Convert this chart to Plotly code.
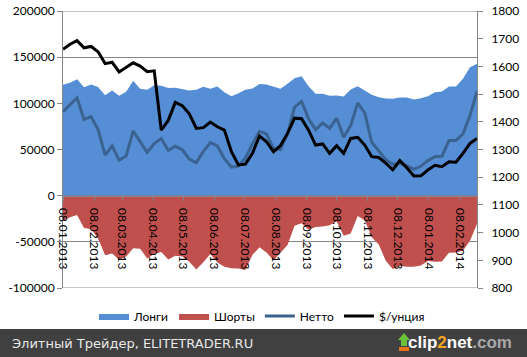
import pandas as pd
import plotly.graph_objects as go

# ---------------- data ----------------
start_date = "2013-01-08"
n_weeks = 60

longs = [120000, 122200, 126000, 117500, 120400, 117800, 108800, 114000, 108300, 112500,
         124500, 115700, 114600, 119500, 119000, 116500, 116800, 115700, 113900, 114600,
         118000, 115700, 118200, 112000, 107700, 111000, 114600, 116000, 121000, 120400,
         118400, 115700, 121100, 127200, 129400, 118600, 110300, 110300, 108100, 108500,
         107400, 115000, 118600, 113900, 109200, 106600, 105200, 104900, 106300, 106300,
         104100, 105500, 107700, 112000, 112800, 118200, 118200, 126600, 139200, 142800]

shorts = [-27500, -23500, -21000, -35000, -36000, -46500, -64500, -62500, -69500, -66000,
          -57000, -57500, -68000, -63000, -61000, -69000, -65000, -66000, -71500, -80000,
          -72000, -63300, -72300, -77000, -78500, -79000, -80600, -64000, -56000, -61500,
          -70000, -61500, -53500, -32500, -30000, -37000, -34000, -33500, -32000, -28000,
          -43500, -41000, -22000, -26500, -45000, -53000, -70500, -79500, -76300, -77000,
          -77000, -75600, -70800, -71600, -71200, -61800, -61500, -59700, -48800, -30700]

netto = [91000, 98500, 106000, 82500, 85700, 71500, 44000, 54000, 38500, 43000,
         70000, 58500, 46800, 56400, 62000, 49000, 53500, 49700, 39500, 35500,
         48000, 57500, 53800, 40000, 31000, 32000, 41000, 56100, 69700, 66900,
         51000, 49900, 66900, 95800, 102000, 83200, 71600, 78800, 73000, 83900,
         63200, 75900, 100500, 89700, 57800, 48500, 39000, 34000, 35000, 32500,
         28500, 31800, 38000, 42300, 42600, 59700, 59700, 66900, 86800, 112800]

gold = [1662, 1680, 1693, 1667, 1672, 1653, 1610, 1615, 1580, 1598,
        1613, 1601, 1581, 1584, 1370, 1405, 1470, 1458, 1429, 1376,
        1379, 1399, 1382, 1370, 1292, 1244, 1247, 1286, 1349, 1328,
        1292, 1314, 1358, 1413, 1411, 1370, 1316, 1320, 1286, 1314,
        1286, 1340, 1344, 1316, 1274, 1271, 1251, 1227, 1260, 1234,
        1204, 1205, 1226, 1243, 1238, 1256, 1254, 1286, 1322, 1340]

x_tick_labels = ["08.01.2013", "08.02.2013", "08.03.2013", "08.04.2013", "08.05.2013",
                 "08.06.2013", "08.07.2013", "08.08.2013", "08.09.2013", "08.10.2013",
                 "08.11.2013", "08.12.2013", "08.01.2014", "08.02.2014"]
left_ticks = [200000, 150000, 100000, 50000, 0, -50000, -100000]
left_tick_labels = ["200000", "150000", "100000", "50000", "0", "-50000", "-100000"]
right_ticks = [1800, 1700, 1600, 1500, 1400, 1300, 1200, 1100, 1000, 900, 800]
series_names = ["Лонги", "Шорты", "Нетто", "$/унция"]
footer_text = "Элитный Трейдер, ELITETRADER.RU"

dates = pd.date_range(start_date, periods=n_weeks, freq="7D")
x_tick_vals = [pd.to_datetime(s, format="%d.%m.%Y") for s in x_tick_labels]

# ---------------- layout geometry ----------------
W, H = 527, 357
ML, MR, MT, MB = 63, 50, 11, 69
PW, PH = W - ML - MR, H - MT - MB


def px(x):
    return (x - ML) / PW


def py(y):
    return (MT + PH - y) / PH


FONT = "Lato, 'Noto Sans', sans-serif"
GRAY = "#868686"

fig = go.Figure()
fig.add_trace(go.Scatter(x=dates, y=longs, name=series_names[0], mode="lines",
                         fill="tozeroy", fillcolor="#558ED5",
                         line=dict(width=0, color="#558ED5")))
fig.add_trace(go.Scatter(x=dates, y=shorts, name=series_names[1], mode="lines",
                         fill="tozeroy", fillcolor="#C0504D",
                         line=dict(width=0, color="#C0504D")))
fig.add_trace(go.Scatter(x=dates, y=netto, name=series_names[2], mode="lines",
                         line=dict(width=3, color="#3B6391")))
fig.add_trace(go.Scatter(x=dates, y=gold, name=series_names[3], mode="lines",
                         line=dict(width=3, color="#000000"), yaxis="y2"))

fig.update_layout(
    width=W, height=H,
    margin=dict(l=ML, r=MR, t=MT, b=MB, pad=0, autoexpand=False),
    paper_bgcolor="white", plot_bgcolor="white",
    font=dict(family=FONT, size=12, color="black"),
    hovermode=False,
    xaxis=dict(type="date", range=[dates[0], dates[-1]],
               tickvals=x_tick_vals, ticktext=x_tick_labels, tickangle=90,
               anchor="free", position=1 / 3,
               showline=True, linecolor=GRAY, linewidth=1,
               ticks="outside", ticklen=4, tickcolor=GRAY,
               ticklabelstandoff=5,
               showgrid=False, zeroline=False, automargin=False,
               tickfont=dict(family=FONT, size=12, color="black")),
    yaxis=dict(range=[left_ticks[-1], left_ticks[0]], tickvals=left_ticks,
               ticktext=left_tick_labels,
               showgrid=True, gridcolor=GRAY, gridwidth=1,
               showline=True, linecolor=GRAY, linewidth=1,
               ticks="outside", ticklen=5, tickcolor=GRAY, zeroline=False,
               automargin=False,
               tickfont=dict(family=FONT, size=12, color="black")),
    yaxis2=dict(range=[right_ticks[-1], right_ticks[0]], tickvals=right_ticks,
                overlaying="y", side="right",
                showgrid=False, showline=True, linecolor=GRAY, linewidth=1,
                ticks="outside", ticklen=5, tickcolor=GRAY, zeroline=False,
                ticklabelstandoff=6, automargin=False,
                tickfont=dict(family=FONT, size=12, color="black")),
    legend=dict(orientation="h", x=px(262), xanchor="center", y=py(316), yanchor="middle",
                font=dict(family=FONT, size=12, color="black"),
                bgcolor="rgba(0,0,0,0)", itemwidth=30, tracegroupgap=0),
    showlegend=True,
)

# gridlines at the range ends (Plotly omits them)
for yv in (left_ticks[0], left_ticks[-1]):
    fig.add_shape(type="line", xref="paper", yref="y", x0=0, x1=1, y0=yv, y1=yv,
                  line=dict(color=GRAY, width=1), layer="below")

# footer band
fig.add_shape(type="rect", xref="paper", yref="paper",
              x0=px(0), x1=px(W), y0=py(H), y1=py(329),
              fillcolor="#404040", line=dict(width=0), layer="above")
fig.add_annotation(xref="paper", yref="paper", x=px(10), y=py(343),
                   xanchor="left", yanchor="middle", showarrow=False,
                   text=footer_text,
                   font=dict(family="DejaVu Sans", size=13, color="#e8e8e8"))
# clip2net logo
arrow = [(404, 333), (410, 340), (407, 340), (407, 346), (401, 346), (401, 340), (398, 340)]
path = "M " + " L ".join(f"{px(a)},{py(b)}" for a, b in arrow) + " Z"
fig.add_shape(type="path", xref="paper", yref="paper", path=path,
              fillcolor="#6cc13a", line=dict(width=0), layer="above")
fig.add_shape(type="rect", xref="paper", yref="paper",
              x0=px(399), x1=px(409), y0=py(351), y1=py(347),
              fillcolor="#e8731c", line=dict(width=0), layer="above")
fig.add_annotation(xref="paper", yref="paper", x=px(514), y=py(342),
                   xanchor="right", yanchor="middle", showarrow=False,
                   text="<b>clip<span style='color:#f5a623'>2</span>net</b>"
                        "<b><span style='color:#a8a8a8'>.com</span></b>",
                   font=dict(family="Liberation Sans", size=17, color="white"))

fig.write_html("out.html", config={"displayModeBar": False},
               post_script="document.body.style.margin='0';document.body.style.overflow='hidden';")
